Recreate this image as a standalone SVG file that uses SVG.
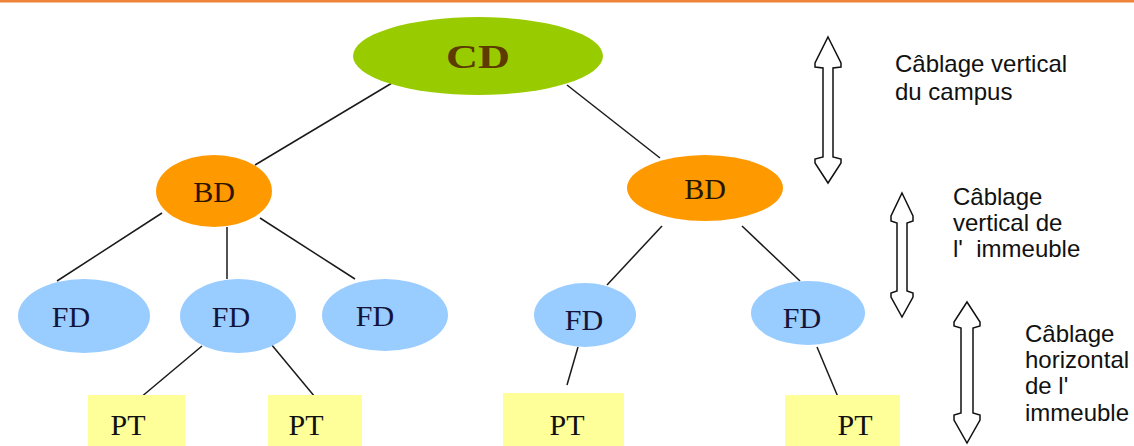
<svg xmlns="http://www.w3.org/2000/svg" width="1134" height="446" viewBox="0 0 1134 446">
<style>
.lbl{font-family:"Liberation Serif","Times New Roman",serif;font-size:30px;text-anchor:middle}
.side{font-family:"Liberation Sans",Arial,sans-serif;font-size:24px;fill:#111}
.conn line{stroke:#1a1a1a;stroke-width:1.5}
.arr{fill:#fff;stroke:#111;stroke-width:1.5;stroke-linejoin:miter}
.bd{fill:#ff9900}
.fd{fill:#99ccff}
.pt{fill:#ffff99}
</style>
<rect width="1134" height="446" fill="#fff"/>
<rect x="0" y="0" width="1134" height="2.5" fill="#f0833a"/>
<g id="connectors" class="conn">
<line x1="392" y1="83" x2="255" y2="165"/>
<line x1="567" y1="85" x2="660" y2="158"/>
<line x1="162" y1="213" x2="57" y2="281"/>
<line x1="227" y1="227" x2="227" y2="279"/>
<line x1="260" y1="218" x2="355" y2="279"/>
<line x1="662" y1="226" x2="607" y2="285"/>
<line x1="742" y1="226" x2="800" y2="281"/>
<line x1="202" y1="346" x2="140" y2="398"/>
<line x1="271" y1="344" x2="315" y2="397"/>
<line x1="578" y1="347" x2="567" y2="385"/>
<line x1="817" y1="347" x2="838" y2="397"/>
</g>
<g id="CD">
<ellipse cx="478" cy="56" rx="125" ry="39" fill="#99cc00"/>
<text x="478" y="68" font-family="'Liberation Serif','Times New Roman',serif" font-weight="bold" font-size="34" fill="#5c3a00" text-anchor="middle" textLength="64" lengthAdjust="spacingAndGlyphs">CD</text>
</g>
<g id="BD1"><ellipse class="bd" cx="214" cy="191" rx="58" ry="36"/><text class="lbl" x="214" y="202" fill="#2a1500">BD</text></g>
<g id="BD2"><ellipse class="bd" cx="705" cy="188" rx="78" ry="33"/><text class="lbl" x="705" y="199" fill="#2a1500">BD</text></g>
<g id="FD1"><ellipse class="fd" cx="84" cy="316" rx="66" ry="37"/><text class="lbl" x="71" y="327" fill="#14143a">FD</text></g>
<g id="FD2"><ellipse class="fd" cx="238" cy="316" rx="58" ry="37"/><text class="lbl" x="231" y="327" fill="#14143a">FD</text></g>
<g id="FD3"><ellipse class="fd" cx="385" cy="315" rx="63" ry="36"/><text class="lbl" x="375" y="326" fill="#14143a">FD</text></g>
<g id="FD4"><ellipse class="fd" cx="585" cy="315" rx="51" ry="32"/><text class="lbl" x="584" y="330" fill="#14143a">FD</text></g>
<g id="FD5"><ellipse class="fd" cx="808" cy="313" rx="57" ry="32"/><text class="lbl" x="802" y="328" fill="#14143a">FD</text></g>
<g id="PT1"><rect class="pt" x="88" y="395" width="97" height="51"/><text class="lbl" x="128" y="435" fill="#111">PT</text></g>
<g id="PT2"><rect class="pt" x="268" y="395" width="94" height="51"/><text class="lbl" x="306" y="435" fill="#111">PT</text></g>
<g id="PT3"><rect class="pt" x="503" y="393" width="121" height="53"/><text class="lbl" x="567" y="435" fill="#111">PT</text></g>
<g id="PT4"><rect class="pt" x="785" y="395" width="115" height="51"/><text class="lbl" x="855" y="435" fill="#111">PT</text></g>
<g id="arrow-campus">
<path class="arr" d="M828,37 L841,63 L841,67 L833,68 L833,157 L841,159 L841,163 L828,183 L815,163 L815,159 L823,157 L823,68 L815,67 L815,63 Z"/>
<text class="side" x="895" y="72">Câblage vertical</text>
<text class="side" x="895" y="100">du campus</text>
</g>
<g id="arrow-building">
<path class="arr" d="M902,193 L913,216 L913,221 L907,223 L907,291 L913,293 L913,297 L902,317 L891,297 L891,293 L897,291 L897,223 L891,221 L891,216 Z"/>
<text class="side" x="953" y="205">Câblage</text>
<text class="side" x="953" y="231">vertical de</text>
<text class="side" x="953" y="257" xml:space="preserve">l'  immeuble</text>
</g>
<g id="arrow-horizontal">
<path class="arr" d="M967,302 L980,322 L980,326 L973,328 L973,413 L980,415 L980,420 L967,443 L954,420 L954,415 L961,413 L961,328 L954,326 L954,322 Z"/>
<text class="side" x="1025" y="342">Câblage</text>
<text class="side" x="1025" y="368">horizontal</text>
<text class="side" x="1025" y="394">de l'</text>
<text class="side" x="1025" y="421">immeuble</text>
</g>
</svg>
